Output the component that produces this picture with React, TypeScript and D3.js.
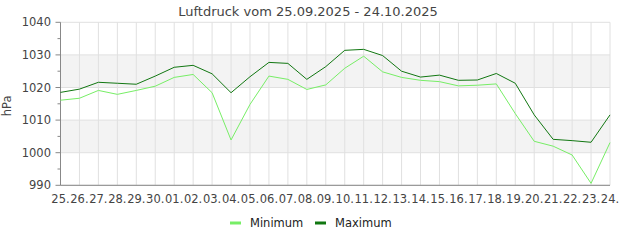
import React from "react";
import * as d3 from "d3";

const days = ["25.","26.","27.","28.","29.","30.","01.","02.","03.","04.","05.","06.","07.","08.","09.","10.","11.","12.","13.","14.","15.","16.","17.","18.","19.","20.","21.","22.","23.","24."];
const minimum = [1016.1,1016.7,1019.1,1017.9,1019.1,1020.4,1023.1,1024.0,1018.4,1003.9,1014.8,1023.5,1022.5,1019.4,1020.8,1025.9,1029.6,1024.8,1023.1,1022.2,1021.8,1020.5,1020.7,1021.1,1012.0,1003.5,1002.0,999.3,990.6,1003.1];
const maximum = [1018.5,1019.5,1021.6,1021.3,1021.0,1023.5,1026.2,1026.8,1024.2,1018.4,1023.3,1027.7,1027.4,1022.5,1026.4,1031.4,1031.7,1029.8,1025.0,1023.2,1023.8,1022.2,1022.3,1024.3,1021.3,1011.6,1004.1,1003.7,1003.2,1011.6];
const yTicks = [990,1000,1010,1020,1030,1040];
const yMinor = [995,1005,1015,1025,1035];
const bands = [[1000,1010],[1020,1030]];
const title = "Luftdruck vom 25.09.2025 - 24.10.2025";
const yLabel = "hPa";
const seriesNames = ["Minimum","Maximum"];
const colors = ["#77ee66","#117711"];

const W = 620, H = 250;
const L = 60.5, R = 610, T = 22.3, B = 185.3;
const FONT = "DejaVu Sans, sans-serif";

export default function App() {
  const x = d3.scaleLinear().domain([0, days.length - 1]).range([L, R]);
  const y = d3.scaleLinear().domain([990, 1040]).range([B, T]);
  const line = d3.line<number>().x((_, i) => x(i)).y(d => y(d));
  return (
    <svg width={W} height={H} style={{ position: "absolute", left: 0, top: 0 }} fontFamily={FONT}>
      <rect width={W} height={H} fill="#fff" />
      {bands.map(([a, b], i) => (
        <rect key={i} x={L} y={y(b)} width={R - L} height={y(a) - y(b)} fill="#f3f3f3" />
      ))}
      {yTicks.map(t => (
        <line key={"h" + t} x1={L} x2={R} y1={y(t)} y2={y(t)} stroke="#e0e0e0" />
      ))}
      {days.map((_, i) => (
        <line key={"v" + i} x1={x(i)} x2={x(i)} y1={T} y2={B} stroke="#e0e0e0" />
      ))}
      <line x1={L} x2={L} y1={T} y2={B} stroke="#888" />
      <line x1={L} x2={R} y1={B} y2={B} stroke="#888" />
      {yTicks.map(t => (
        <g key={"t" + t}>
          <line x1={L - 5} x2={L} y1={y(t)} y2={y(t)} stroke="#888" />
          <text x={51} y={y(t)} dy="0.35em" textAnchor="end" fontSize={11.5} fill="#444">{t}</text>
        </g>
      ))}
      {yMinor.map(t => (
        <line key={"m" + t} x1={L - 3} x2={L} y1={y(t)} y2={y(t)} stroke="#888" />
      ))}
      {days.map((d, i) => (
        <text key={"x" + i} x={x(i)} y={203} textAnchor="middle" fontSize={11.5} fill="#444">{d}</text>
      ))}
      <text transform={`translate(11,${(T + B) / 2 + 2}) rotate(-90)`} textAnchor="middle" fontSize={11.5} fill="#444">{yLabel}</text>
      <text x={308} y={16} textAnchor="middle" fontSize={13} fill="#444">{title}</text>
      <path d={line(minimum) || ""} fill="none" stroke={colors[0]} strokeWidth={1} />
      <path d={line(maximum) || ""} fill="none" stroke={colors[1]} strokeWidth={1} />
      {seriesNames.map((n, i) => (
        <g key={n} transform={`translate(${230 + i * 85},223)`}>
          <line x1={0} x2={11} y1={0} y2={0} stroke={colors[i]} strokeWidth={3} />
          <text x={20} y={0} dy="0.35em" fontSize={11.5} fill="#222">{n}</text>
        </g>
      ))}
    </svg>
  );
}
